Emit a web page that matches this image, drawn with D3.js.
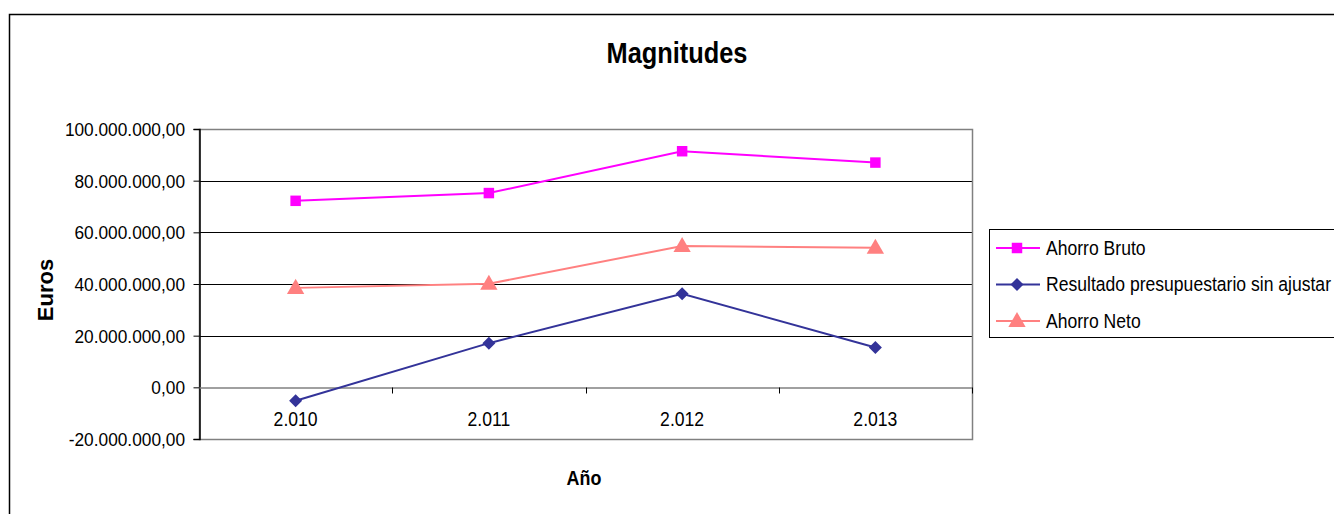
<!DOCTYPE html>
<html>
<head>
<meta charset="utf-8">
<script src="https://cdn.jsdelivr.net/npm/d3@7"></script>
<style>
  html, body { margin: 0; padding: 0; background: #fff; }
  svg { display: block; font-family: Arial, "Liberation Sans", sans-serif; }
</style>
</head>
<body>
<svg id="chart" width="1334" height="514"></svg>
<script>
// ---- data ----
const categories = ["2.010", "2.011", "2.012", "2.013"];
const ahorroBruto = [72200000, 75200000, 91400000, 87000000];
const resultado = [-5200000, 17100000, 36200000, 15400000];
const ahorroNeto = [38500000, 40100000, 54700000, 54000000];
const yTicks = [-20000000, 0, 20000000, 40000000, 60000000, 80000000, 100000000];
const seriesNames = ["Ahorro Bruto", "Resultado presupuestario sin ajustar", "Ahorro Neto"];
const titleText = "Magnitudes";
const xTitle = "Año";
const yTitle = "Euros";

// ---- setup ----
const svg = d3.select("#chart");
const W = 1334, H = 514;
svg.append("rect").attr("width", W).attr("height", H).attr("fill", "#fff");
// outer chart border
svg.append("rect").attr("x", 9.5).attr("y", 14.5).attr("width", 1340).attr("height", 520)
  .attr("fill", "none").attr("stroke", "#000").attr("stroke-width", 1.5);

const plot = { left: 199, right: 972, top: 129, bottom: 439 };
const x = d3.scaleBand().domain(categories).range([plot.left, plot.right]).padding(0);
const y = d3.scaleLinear().domain([-20000000, 100000000]).range([plot.bottom, plot.top]);
const xc = c => x(c) + x.bandwidth() / 2;

const locale = d3.formatLocale({ decimal: ",", thousands: ".", grouping: [3], currency: ["", "€"], minus: "-" });
const fmt = locale.format(",.2f");

// gridlines
svg.append("g").selectAll("line").data(yTicks.filter(v => v !== 0 && v !== -20000000 && v !== 100000000))
  .join("line")
  .attr("x1", plot.left).attr("x2", plot.right)
  .attr("y1", d => Math.round(y(d)) + 0.5).attr("y2", d => Math.round(y(d)) + 0.5)
  .attr("stroke", "#000").attr("stroke-width", 1);

// plot area border
svg.append("rect").attr("x", plot.left + 0.5).attr("y", plot.top + 0.5)
  .attr("width", plot.right - plot.left).attr("height", plot.bottom - plot.top)
  .attr("fill", "none").attr("stroke", "#808080").attr("stroke-width", 1.5);

// y axis
const ySx = 0.91;
const yAxis = svg.append("g").attr("transform", `translate(${plot.left + 0.5},0)`)
  .call(d3.axisLeft(y).tickValues(yTicks).tickSize(6).tickFormat(fmt));
yAxis.select(".domain").attr("stroke", "#000").attr("stroke-width", 1.5);
yAxis.selectAll(".tick line").attr("stroke", "#000");
yAxis.selectAll(".tick text")
  .attr("font-size", 19).attr("fill", "#000")
  .attr("x", -14.5 / ySx).attr("dy", "0.35em")
  .attr("transform", `scale(${ySx},1)`)
  .style("font-family", "Arial, 'Liberation Sans', sans-serif");

// x axis at zero
const y0 = Math.round(y(0)) + 0.5;
const xAxis = svg.append("g").attr("transform", `translate(0,${y0})`)
  .call(d3.axisBottom(x).tickSize(0).tickPadding(0));
xAxis.select(".domain").attr("stroke", "#808080").attr("stroke-width", 1.5);
xAxis.selectAll(".tick text")
  .attr("font-size", 20).attr("fill", "#000")
  .attr("y", 38.4).attr("dy", 0)
  .attr("transform", "scale(0.88,1)")
  .style("font-family", "Arial, 'Liberation Sans', sans-serif");
// category boundary tick marks
svg.append("g").selectAll("line").data(categories.slice(1).map(c => x(c)).concat([plot.right]))
  .join("line")
  .attr("x1", d => Math.round(d) + 0.5).attr("x2", d => Math.round(d) + 0.5)
  .attr("y1", y0).attr("y2", y0 + 6)
  .attr("stroke", "#000").attr("stroke-width", 1);

// series
const colors = ["#FF00FF", "#333399", "#FF8080"];
const allSeries = [ahorroBruto, resultado, ahorroNeto];
const shapes = [d3.symbolSquare, d3.symbolSquare, d3.symbolTriangle];
const rot = [0, 45, 0];
const sizes = [110, 85, 130];
const line = d3.line().x((d, i) => xc(categories[i])).y(d => y(d));

allSeries.forEach((s, k) => {
  svg.append("path").datum(s).attr("d", line)
    .attr("fill", "none").attr("stroke", colors[k]).attr("stroke-width", 2);
  svg.append("g").selectAll("path").data(s).join("path")
    .attr("transform", (d, i) => `translate(${xc(categories[i])},${y(d) + (k === 2 ? 1 : 0)}) rotate(${rot[k]})`)
    .attr("d", d3.symbol().type(shapes[k]).size(sizes[k]))
    .attr("fill", colors[k]);
});

// title
svg.append("text").attr("transform", "translate(677,63) scale(0.875,1)")
  .attr("text-anchor", "middle").attr("font-size", 29).attr("font-weight", "bold")
  .text(titleText);

// axis titles
svg.append("text").attr("transform", "translate(584,485) scale(0.92,1)")
  .attr("text-anchor", "middle").attr("font-size", 19.5).attr("font-weight", "bold")
  .text(xTitle);
svg.append("text").attr("transform", "translate(52.5,290) rotate(-90)")
  .attr("text-anchor", "middle").attr("font-size", 22).attr("font-weight", "bold")
  .text(yTitle);

// legend
const lg = svg.append("g");
lg.append("rect").attr("x", 989.5).attr("y", 229.5).attr("width", 400).attr("height", 108)
  .attr("fill", "#fff").attr("stroke", "#000").attr("stroke-width", 1);
const rowY = [248, 284.5, 321];
seriesNames.forEach((name, k) => {
  lg.append("line").attr("x1", 996).attr("x2", 1040).attr("y1", rowY[k]).attr("y2", rowY[k])
    .attr("stroke", colors[k]).attr("stroke-width", 2);
  lg.append("path").attr("transform", `translate(1017,${rowY[k] + (k === 2 ? 1 : 0)}) rotate(${rot[k]})`)
    .attr("d", d3.symbol().type(shapes[k]).size(sizes[k])).attr("fill", colors[k]);
  lg.append("text").attr("transform", `translate(1046,${rowY[k] + 6.5}) scale(0.857,1)`)
    .attr("font-size", 20.5).text(name);
});
</script>
</body>
</html>
